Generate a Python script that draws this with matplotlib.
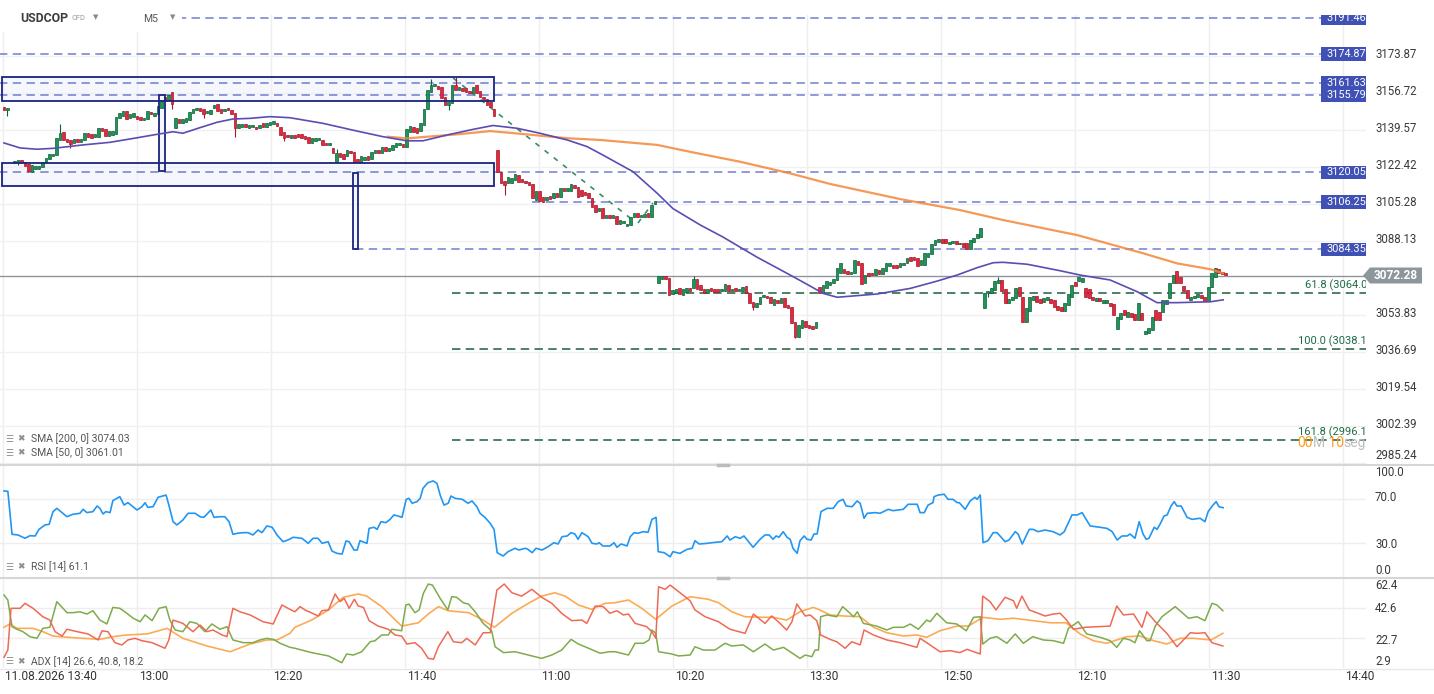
import numpy as np
import matplotlib
matplotlib.use("Agg")
import matplotlib.pyplot as plt
from matplotlib.patches import Rectangle, Polygon
from matplotlib.lines import Line2D
from matplotlib import transforms

plt.rcParams['font.family'] = ['Roboto', 'DejaVu Sans']

# ---- data (USDCOP CFD, M5) ----
# (open, close) per candle slot; slot 2 is empty
candles = [
    (3150.4, 3149.0), (3149.0, 3149.9), None, (3124.5, 3125.2), (3124.9, 3125.6),
    (3125.6, 3124.7), (3124.7, 3123.1), (3123.8, 3120.7), (3120.4, 3123.5), (3121.6, 3123.1),
    (3121.6, 3122.8), (3122.6, 3125.0), (3125.0, 3126.8), (3126.3, 3128.4), (3127.5, 3128.4),
    (3128.1, 3135.8), (3135.1, 3138.2), (3138.9, 3135.1), (3135.4, 3134.0), (3134.9, 3133.1),
    (3133.5, 3135.5), (3135.5, 3134.3), (3134.3, 3135.5), (3134.9, 3138.1), (3138.1, 3136.6),
    (3137.7, 3136.1), (3136.4, 3137.7), (3136.6, 3140.5), (3140.5, 3139.4), (3140.0, 3137.0),
    (3137.0, 3139.2), (3137.4, 3139.2), (3137.7, 3145.6), (3145.1, 3147.4), (3146.3, 3148.5),
    (3148.5, 3144.6), (3145.1, 3146.9), (3145.7, 3147.4), (3146.2, 3144.6), (3145.7, 3144.2),
    (3144.2, 3145.4), (3144.8, 3148.6), (3148.2, 3146.9), (3146.3, 3147.7), (3146.9, 3150.9),
    (3150.0, 3153.4), (3155.0, 3153.1), (3153.4, 3155.9), (3157.2, 3151.6), (3140.8, 3145.1),
    (3144.6, 3143.1), (3142.8, 3144.6), (3143.5, 3145.1), (3144.5, 3147.9), (3147.6, 3149.4),
    (3148.8, 3149.7), (3149.7, 3148.5), (3149.3, 3147.0), (3147.4, 3148.5), (3147.0, 3149.0),
    (3149.7, 3151.3), (3151.6, 3148.5), (3149.3, 3147.7), (3148.5, 3149.4), (3150.0, 3148.8),
    (3148.8, 3147.2), (3147.6, 3140.8), (3140.5, 3142.3), (3140.9, 3142.5), (3142.3, 3141.1),
    (3140.8, 3142.0), (3140.9, 3142.0), (3141.2, 3140.0), (3140.5, 3142.0), (3142.8, 3140.9),
    (3140.9, 3143.1), (3142.0, 3143.5), (3142.3, 3143.9), (3142.8, 3141.6), (3141.2, 3137.4),
    (3138.9, 3135.8), (3137.4, 3136.6), (3136.1, 3137.4), (3137.4, 3136.1), (3137.7, 3136.6),
    (3137.7, 3135.8), (3136.9, 3135.6), (3136.6, 3133.8), (3133.8, 3136.1), (3134.7, 3135.8),
    (3135.1, 3135.8), (3135.1, 3132.7), (3133.8, 3132.6), (3132.6, 3133.8), (3131.5, 3129.2),
    (3125.0, 3129.2), (3129.2, 3127.0), (3128.4, 3126.1), (3127.7, 3130.4), (3130.0, 3128.9),
    (3129.6, 3125.0), (3126.1, 3125.0), (3125.0, 3127.7), (3125.8, 3127.0), (3127.7, 3125.8),
    (3126.1, 3129.6), (3129.2, 3130.4), (3130.4, 3129.2), (3128.9, 3131.7), (3131.7, 3130.1),
    (3130.1, 3131.2), (3130.4, 3132.7), (3131.9, 3133.5), (3132.6, 3133.8), (3133.2, 3131.9),
    (3131.9, 3140.0), (3138.9, 3141.6), (3140.9, 3138.9), (3140.5, 3138.4), (3139.4, 3142.8),
    (3142.0, 3149.3), (3149.3, 3158.2), (3157.4, 3160.5), (3160.1, 3160.9), (3160.1, 3158.5),
    (3159.5, 3154.4), (3154.8, 3151.3), (3151.4, 3152.8), (3152.3, 3160.5), (3160.5, 3158.2),
    (3158.2, 3159.5), (3159.0, 3157.9), (3159.0, 3157.4), (3157.9, 3156.7), (3157.0, 3159.8),
    (3160.5, 3157.0), (3157.9, 3155.1), (3155.1, 3153.9), (3153.9, 3151.3), (3152.8, 3150.2),
    (3149.3, 3146.2), (3130.4, 3120.4), (3120.4, 3115.3), (3116.2, 3114.2), (3115.0, 3117.8),
    (3115.3, 3117.3), (3116.5, 3119.3), (3118.8, 3115.7), (3116.8, 3115.7), (3116.2, 3115.0),
    (3115.6, 3114.2), (3114.5, 3108.0), (3107.3, 3111.4), (3111.4, 3106.9), (3108.5, 3106.4),
    (3107.3, 3108.8), (3109.1, 3107.6), (3108.0, 3110.3), (3110.3, 3108.5), (3108.5, 3112.7),
    (3113.0, 3111.6), (3111.6, 3113.0), (3111.6, 3114.5), (3114.2, 3112.7), (3113.4, 3108.8),
    (3111.9, 3109.1), (3111.1, 3109.6), (3110.3, 3108.0), (3108.0, 3104.1), (3104.9, 3101.8),
    (3102.3, 3103.4), (3103.4, 3098.8), (3098.8, 3100.3), (3100.3, 3098.8), (3098.8, 3100.3),
    (3099.8, 3096.0), (3096.1, 3098.0), (3096.4, 3097.6), (3095.2, 3096.1), (3095.7, 3099.2),
    (3099.2, 3101.1), (3101.1, 3099.2), (3099.5, 3100.3), (3099.5, 3100.8), (3101.1, 3099.5),
    (3099.5, 3104.9), (3105.4, 3106.8), (3068.7, 3072.0), (3070.5, 3072.0), (3072.0, 3070.5),
    (3071.3, 3063.1), (3063.7, 3065.6), (3064.0, 3066.1), (3066.3, 3063.7), (3063.2, 3065.9),
    (3064.8, 3066.6), (3066.6, 3065.2), (3066.3, 3070.5), (3070.5, 3065.9), (3067.9, 3065.6),
    (3066.1, 3064.3), (3064.0, 3065.9), (3066.5, 3064.9), (3066.1, 3064.8), (3066.0, 3064.8),
    (3065.2, 3066.1), (3065.2, 3068.3), (3067.9, 3065.2), (3065.2, 3066.1), (3066.5, 3065.2),
    (3065.2, 3066.1), (3064.9, 3067.1), (3067.4, 3064.0), (3064.0, 3059.4), (3060.0, 3057.8),
    (3057.8, 3059.7), (3059.1, 3062.4), (3062.2, 3063.1), (3062.8, 3061.8), (3062.4, 3059.4),
    (3058.5, 3061.2), (3060.9, 3059.4), (3059.4, 3061.8), (3061.8, 3057.8), (3058.5, 3057.1),
    (3057.8, 3050.4), (3050.8, 3043.9), (3043.9, 3049.4), (3047.8, 3051.7), (3051.3, 3048.5),
    (3049.4, 3047.8), (3048.9, 3047.7), (3047.8, 3050.8), (3067.1, 3064.3), (3064.3, 3067.9),
    (3066.3, 3069.7), (3067.9, 3069.4), (3068.6, 3070.5), (3070.2, 3075.6), (3073.3, 3078.2),
    (3075.1, 3073.6), (3074.4, 3073.0), (3073.0, 3074.0), (3073.6, 3079.5), (3079.1, 3077.1),
    (3077.9, 3068.3), (3068.9, 3072.5), (3073.6, 3072.0), (3073.6, 3072.5), (3072.5, 3075.1),
    (3074.8, 3073.0), (3073.0, 3075.6), (3074.5, 3077.9), (3076.7, 3077.9), (3077.1, 3075.6),
    (3077.1, 3075.6), (3076.1, 3077.9), (3077.1, 3078.2), (3077.9, 3080.2), (3080.7, 3079.1),
    (3080.7, 3079.5), (3080.2, 3076.8), (3077.1, 3079.5), (3077.1, 3082.6), (3081.0, 3082.8),
    (3082.2, 3086.9), (3086.4, 3088.7), (3087.9, 3089.0), (3089.0, 3087.5), (3089.0, 3087.2),
    (3086.9, 3087.9), (3087.2, 3088.1), (3088.1, 3086.9), (3086.9, 3087.5), (3087.5, 3085.6),
    (3087.2, 3084.4), (3084.4, 3088.7), (3087.9, 3089.5), (3089.5, 3091.5), (3090.0, 3094.1),
    (3057.0, 3064.3), (3064.0, 3065.2), (3064.0, 3066.5), (3065.6, 3069.8), (3068.9, 3070.2),
    (3070.2, 3065.2), (3065.9, 3059.7), (3059.4, 3061.2), (3061.0, 3062.2), (3061.7, 3066.3),
    (3066.8, 3062.8), (3062.2, 3050.8), (3050.8, 3057.1), (3056.0, 3062.2), (3060.9, 3062.8),
    (3062.8, 3060.1), (3061.5, 3059.7), (3060.0, 3061.8), (3061.0, 3062.2), (3061.2, 3059.4),
    (3060.9, 3057.5), (3058.1, 3056.3), (3057.5, 3055.9), (3055.9, 3059.7), (3058.6, 3063.7),
    (3062.4, 3067.9), (3069.4, 3067.4), (3069.8, 3071.4), (3069.4, 3070.9), (3066.3, 3062.4),
    (3065.9, 3061.7), (3062.4, 3060.9), (3060.6, 3061.7), (3061.7, 3060.6), (3059.4, 3060.9),
    (3059.7, 3060.9), (3059.4, 3058.1), (3059.1, 3054.0), (3047.3, 3053.2), (3052.0, 3054.7),
    (3056.3, 3054.0), (3053.2, 3055.5), (3054.7, 3053.2), (3054.4, 3051.7), (3051.7, 3059.4),
    (3055.0, 3051.7), (3045.2, 3046.6), (3045.5, 3047.8), (3047.0, 3053.2), (3056.3, 3051.7),
    (3055.5, 3051.7), (3055.5, 3060.9), (3059.1, 3060.9), (3061.7, 3068.6), (3068.9, 3072.5),
    (3074.5, 3068.9), (3071.7, 3068.9), (3067.4, 3065.2), (3065.6, 3061.7), (3060.9, 3062.4),
    (3061.8, 3062.8), (3062.4, 3063.7), (3063.2, 3061.7), (3062.4, 3060.6), (3060.6, 3067.1),
    (3067.1, 3073.3), (3071.7, 3075.6), (3075.1, 3073.3), (3074.0, 3073.0), (3073.6, 3072.3),
]
# visible wicks: slot -> extreme price
wick_high = {16: 3142.3, 95: 3130.9, 122: 3163.2, 129: 3164.1, 197: 3072.0, 284: 3071.4}
wick_low = {1: 3146.2, 4: 3123.5, 7: 3120.1, 19: 3131.2, 48: 3149.4, 57: 3145.1,
            66: 3136.6, 80: 3134.7, 127: 3149.0, 143: 3109.6, 214: 3056.3, 226: 3043.3,
            281: 3062.2}

sma50_pts = [(0.0, 3133.7), (4.6, 3131.4), (9.4, 3130.8), (14.0, 3131.2), (22.6, 3132.8),
             (30.3, 3134.0), (38.0, 3136.1), (43.7, 3137.7), (48.3, 3138.9), (51.1, 3138.2),
             (56.0, 3140.8), (60.9, 3143.3), (65.4, 3144.8), (70.3, 3145.1), (76.0, 3145.9),
             (81.7, 3145.4), (91.1, 3142.8), (100.9, 3139.2), (108.3, 3136.6), (115.1, 3134.7),
             (119.7, 3134.7), (126.6, 3137.4), (134.0, 3140.0), (139.7, 3141.8), (146.6, 3140.5),
             (153.1, 3138.2), (160.9, 3135.1), (166.6, 3132.0), (171.1, 3128.1), (179.7, 3120.4),
             (186.6, 3110.4), (191.1, 3103.3), (198.9, 3095.7), (205.4, 3090.1), (215.1, 3080.8),
             (224.6, 3072.5), (230.3, 3067.4), (234.0, 3064.0), (238.0, 3062.2), (249.4, 3063.7),
             (258.9, 3066.3), (266.6, 3069.7), (272.3, 3072.5), (278.0, 3075.9), (282.6, 3078.2),
             (285.4, 3078.4), (292.3, 3077.5), (301.7, 3074.5), (307.4, 3072.5), (316.0, 3070.2),
             (323.7, 3064.8), (329.4, 3059.7), (335.1, 3059.7), (344.6, 3060.1), (348.3, 3061.0)]
sma200_pts = [(109.7, 3136.6), (115.1, 3135.8), (120.9, 3136.6), (129.4, 3137.7), (138.9, 3139.2),
              (144.6, 3138.4), (160.9, 3135.9), (170.3, 3135.1), (186.6, 3132.8), (196.0, 3129.6),
              (210.3, 3125.0), (224.6, 3119.6), (236.0, 3114.7), (256.0, 3107.7), (273.1, 3102.6),
              (285.4, 3098.0), (306.6, 3091.0), (325.4, 3082.6), (335.1, 3077.9), (344.6, 3075.2),
              (348.3, 3073.3)]

rsi_pts = [(0.0, 77.3), (1.1, 77.0), (2.3, 37.9), (4.0, 37.3), (6.0, 34.3), (7.4, 36.6), (8.9, 36.4),
           (10.0, 42.4), (11.7, 46.4), (12.9, 47.0), (14.0, 58.5), (15.1, 61.5), (16.6, 57.6),
           (18.0, 53.9), (19.7, 56.1), (21.7, 57.0), (22.6, 60.6), (23.7, 57.6), (25.4, 58.5),
           (26.6, 63.6), (27.4, 61.5), (28.3, 56.4), (29.1, 58.5), (30.3, 57.6), (31.1, 68.5),
           (33.1, 72.1), (34.3, 64.5), (35.4, 66.7), (38.0, 60.0), (39.4, 63.0), (40.3, 66.6),
           (41.1, 62.4), (42.6, 63.0), (44.0, 71.5), (46.3, 73.6), (47.1, 64.5), (48.3, 49.4),
           (49.4, 46.4), (51.1, 50.9), (52.6, 57.0), (54.6, 57.0), (56.0, 53.9), (57.1, 53.3),
           (59.1, 60.0), (60.0, 53.3), (61.7, 53.9), (63.1, 53.9), (64.3, 49.4), (65.4, 37.9),
           (66.6, 38.8), (68.3, 39.4), (69.7, 39.4), (71.1, 37.3), (72.6, 41.8), (73.7, 39.4),
           (75.1, 45.5), (76.6, 44.3), (78.0, 37.3), (79.7, 31.2), (81.1, 32.7), (82.6, 35.2),
           (85.1, 34.3), (86.9, 29.7), (88.3, 34.3), (89.7, 34.3), (90.9, 29.7), (92.6, 31.2),
           (93.7, 22.7), (95.1, 20.6), (96.6, 20.0), (97.7, 31.8), (98.6, 31.2), (100.0, 23.6),
           (100.9, 23.6), (101.7, 32.1), (103.7, 29.7), (104.3, 43.3), (105.7, 44.3), (106.6, 42.4),
           (107.7, 49.4), (109.1, 48.5), (110.3, 51.5), (111.4, 55.5), (112.6, 54.5), (113.7, 53.3),
           (114.9, 69.7), (115.7, 70.6), (116.6, 66.1), (118.0, 67.6), (118.9, 70.6), (119.7, 79.7),
           (121.1, 84.8), (122.6, 86.4), (123.7, 84.2), (124.6, 73.6), (125.7, 64.5), (126.9, 66.1),
           (127.7, 72.7), (128.9, 70.6), (130.9, 69.7), (132.6, 66.1), (133.7, 68.2), (135.1, 63.0),
           (136.0, 57.0), (137.4, 53.3), (138.9, 47.9), (140.0, 42.4), (140.9, 21.2), (142.6, 18.2),
           (144.0, 22.1), (146.0, 25.2), (147.1, 23.6), (148.9, 25.2), (149.7, 24.2), (150.9, 21.2),
           (152.0, 25.2), (153.7, 23.6), (155.4, 26.6), (157.1, 30.3), (158.3, 29.1), (159.4, 35.7),
           (160.9, 36.4), (162.0, 39.4), (163.1, 38.2), (164.0, 33.4), (165.1, 39.4), (166.9, 35.7),
           (168.0, 29.7), (169.4, 29.1), (170.0, 30.3), (171.1, 27.3), (173.1, 27.3), (174.3, 30.3),
           (175.1, 26.1), (176.3, 29.1), (178.0, 27.3), (178.9, 35.7), (180.0, 39.4), (181.1, 38.8),
           (182.6, 40.3), (184.0, 39.7), (185.1, 51.5), (186.3, 53.3), (186.9, 22.1), (188.6, 21.2),
           (190.3, 17.5), (191.1, 22.1), (193.1, 20.6), (195.1, 24.2), (196.6, 25.2), (197.4, 32.1),
           (198.6, 29.1), (200.9, 29.7), (202.3, 30.3), (205.1, 31.2), (206.6, 36.4), (207.4, 32.7),
           (208.9, 35.7), (210.3, 34.3), (211.4, 36.4), (214.0, 26.1), (216.0, 33.4), (217.4, 37.3),
           (218.6, 37.3), (219.7, 33.4), (220.6, 36.4), (221.4, 35.2), (222.6, 40.3), (223.7, 35.2),
           (224.6, 33.4), (225.4, 25.2), (226.6, 20.6), (227.4, 32.1), (228.6, 36.4), (229.4, 33.4),
           (230.6, 32.7), (231.4, 38.2), (232.3, 38.2), (233.4, 58.5), (235.1, 61.5), (236.9, 61.5),
           (238.3, 67.6), (239.7, 69.7), (240.6, 63.6), (242.3, 63.0), (243.7, 68.2), (244.6, 66.1),
           (245.7, 52.5), (246.6, 57.0), (248.9, 57.6), (250.3, 57.0), (252.6, 60.6), (254.0, 59.4),
           (256.9, 60.6), (258.3, 65.2), (260.9, 65.2), (261.7, 57.6), (262.9, 57.6), (264.0, 64.5),
           (265.4, 66.7), (265.7, 72.1), (266.9, 73.6), (268.6, 74.3), (269.7, 69.7), (271.1, 69.7),
           (272.3, 66.7), (272.9, 66.7), (274.6, 60.6), (276.0, 68.2), (277.4, 71.5), (278.0, 69.7),
           (278.9, 73.6), (279.7, 30.3), (281.1, 32.1), (282.6, 39.4), (283.7, 39.4), (286.0, 31.2),
           (287.1, 32.7), (288.9, 40.3), (289.7, 38.2), (290.9, 29.1), (292.9, 42.4), (294.0, 42.4),
           (295.4, 40.3), (297.4, 41.8), (299.7, 40.3), (301.7, 37.3), (302.9, 40.3), (305.1, 55.5),
           (306.6, 55.5), (308.0, 57.6), (310.3, 45.5), (313.1, 44.3), (315.1, 43.3), (316.6, 40.3),
           (318.0, 32.7), (319.4, 36.4), (320.9, 36.4), (321.7, 38.2), (323.1, 34.3), (324.3, 49.4),
           (325.4, 38.2), (326.3, 33.4), (327.1, 34.3), (328.6, 44.3), (329.4, 42.4), (330.3, 47.3),
           (331.4, 54.5), (332.3, 55.5), (333.4, 63.6), (334.3, 67.6), (335.1, 63.6), (336.3, 63.6),
           (338.0, 53.3), (339.4, 51.5), (341.7, 52.5), (343.1, 49.4), (344.0, 58.5), (345.4, 64.5),
           (346.3, 67.6), (347.1, 63.0), (348.3, 62.1)]

# ADX [14]: +DI (green), -DI (red), ADX (orange)
pdi_pts = [(0.0, 51.2), (1.1, 47.9), (2.3, 30.2), (3.7, 28.5), (5.4, 26.9), (7.4, 23.6), (9.4, 22.5),
           (11.1, 29.1), (13.1, 29.8), (15.1, 46.8), (18.0, 39.5), (19.7, 39.5), (21.7, 40.1),
           (23.7, 38.6), (25.4, 40.8), (27.4, 34.6), (29.4, 32.0), (31.1, 43.0), (33.1, 42.4),
           (35.1, 39.1), (36.9, 35.8), (38.9, 33.5), (40.3, 38.0), (42.3, 34.2), (44.3, 42.4),
           (46.3, 43.5), (47.4, 34.6), (48.9, 28.0), (51.1, 26.9), (53.1, 33.5), (55.1, 32.4),
           (57.4, 26.9), (59.4, 32.0), (61.7, 28.5), (63.7, 30.2), (65.4, 21.4), (68.3, 19.6),
           (71.1, 19.6), (73.1, 21.4), (75.1, 22.5), (76.9, 21.8), (78.9, 19.2), (81.7, 16.5),
           (83.1, 15.9), (87.9, 13.0), (92.7, 10.8), (96.5, 6.3), (97.9, 12.1), (99.8, 11.4),
           (102.2, 13.6), (104.6, 20.2), (106.0, 20.9), (107.9, 24.7), (109.8, 24.7), (110.8, 28.5),
           (113.6, 27.5), (114.8, 44.6), (115.7, 45.2), (117.4, 39.5), (118.6, 41.3), (119.8, 52.3),
           (121.2, 58.5), (122.4, 57.8), (124.6, 49.0), (126.8, 41.3), (127.9, 50.1), (129.3, 49.7),
           (131.2, 46.1), (132.7, 45.2), (134.6, 40.1), (136.9, 32.4), (139.3, 27.5), (140.3, 16.9),
           (142.7, 13.0), (146.0, 13.6), (148.9, 11.9), (153.6, 9.2), (156.5, 11.4), (159.3, 14.7),
           (162.0, 21.8), (164.1, 18.7), (167.0, 15.9), (170.3, 12.6), (173.1, 13.6), (174.6, 13.6),
           (178.4, 11.4), (180.3, 19.2), (182.7, 19.2), (184.3, 21.4), (185.1, 28.0), (186.2, 25.8),
           (187.0, 13.6), (190.8, 12.1), (192.7, 10.8), (196.0, 11.4), (197.4, 16.9), (199.8, 14.7),
           (203.1, 14.7), (206.0, 19.2), (207.9, 17.4), (211.2, 18.1), (214.1, 13.6), (217.4, 18.7),
           (219.8, 14.7), (222.7, 16.5), (227.4, 9.2), (228.9, 11.4), (230.8, 10.3), (231.7, 14.7),
           (232.7, 14.7), (233.3, 36.8), (235.1, 38.0), (237.9, 36.8), (239.6, 43.5), (241.7, 39.1),
           (242.7, 36.8), (243.8, 40.1), (245.5, 32.4), (249.3, 30.6), (252.2, 28.0), (254.1, 29.8),
           (257.0, 29.8), (258.9, 32.0), (261.2, 28.5), (263.6, 34.6), (264.6, 33.5), (266.5, 39.1),
           (269.3, 32.8), (272.2, 32.0), (274.9, 27.5), (277.0, 36.4), (278.9, 36.8), (279.6, 18.7),
           (281.7, 22.5), (283.6, 23.6), (286.5, 19.2), (288.9, 25.4), (291.2, 19.2), (293.9, 23.6),
           (296.9, 21.4), (299.8, 20.9), (302.7, 19.2), (304.1, 29.1), (306.9, 33.5), (309.3, 25.4),
           (313.1, 23.2), (316.0, 20.9), (317.9, 16.5), (319.8, 22.5), (321.7, 21.4), (323.1, 19.6),
           (324.4, 27.5), (326.5, 20.9), (327.4, 20.9), (328.9, 30.6), (330.8, 36.8), (334.6, 43.5),
           (338.4, 35.8), (340.8, 36.8), (343.1, 34.2), (345.1, 45.7), (346.5, 44.6), (348.2, 40.8)]
mdi_pts = [(0.0, 9.9), (1.1, 14.7), (2.0, 42.4), (4.6, 42.4), (6.0, 45.7), (8.3, 42.4), (11.1, 36.8),
           (13.1, 34.6), (14.6, 26.9), (16.6, 24.0), (18.0, 28.5), (20.9, 26.9), (24.0, 25.4),
           (26.9, 21.4), (28.0, 27.5), (29.7, 26.9), (31.7, 19.6), (33.7, 18.1), (35.4, 21.4),
           (37.4, 22.5), (39.4, 20.9), (42.3, 19.6), (46.0, 15.9), (47.1, 21.4), (48.3, 34.6),
           (51.1, 32.4), (54.0, 26.9), (56.0, 31.3), (58.0, 26.9), (59.7, 28.0), (62.3, 24.7),
           (63.7, 23.6), (65.4, 42.4), (67.4, 40.1), (70.3, 38.0), (74.0, 33.5), (76.9, 32.0),
           (79.4, 44.6), (81.7, 41.7), (83.1, 40.1), (84.6, 43.5), (86.0, 41.3), (89.8, 37.3),
           (90.8, 40.8), (92.7, 41.3), (94.6, 51.9), (96.0, 46.8), (97.2, 49.0), (98.6, 42.4),
           (100.1, 48.4), (101.2, 43.9), (102.7, 43.0), (104.3, 34.2), (106.9, 30.6), (109.8, 28.5),
           (111.7, 24.7), (113.6, 24.0), (115.1, 18.7), (117.4, 19.6), (119.3, 15.9), (121.2, 9.2),
           (122.7, 8.6), (124.1, 16.9), (126.8, 26.9), (128.4, 20.2), (130.8, 19.6), (132.2, 22.5),
           (134.6, 18.1), (136.9, 26.2), (138.9, 26.2), (140.8, 54.5), (142.9, 58.5), (145.1, 52.7),
           (147.9, 50.5), (150.8, 55.0), (153.6, 49.7), (156.5, 45.7), (159.3, 39.1), (162.2, 34.2),
           (165.1, 34.6), (166.5, 32.4), (168.9, 43.9), (171.2, 43.5), (173.1, 39.1), (175.1, 40.8),
           (176.9, 38.0), (178.4, 38.6), (180.3, 32.4), (183.6, 30.2), (185.1, 26.9), (186.2, 22.5),
           (187.0, 56.7), (188.9, 55.0), (190.3, 57.8), (193.6, 51.9), (196.0, 47.4), (197.4, 41.3),
           (200.3, 36.8), (204.1, 33.5), (207.4, 28.5), (211.7, 25.8), (214.1, 38.6), (217.4, 32.4),
           (219.3, 37.3), (221.2, 33.5), (223.6, 28.0), (225.1, 33.5), (226.5, 45.2), (228.9, 37.3),
           (230.3, 38.0), (232.2, 34.2), (233.3, 24.7), (236.0, 21.8), (237.9, 20.2), (240.3, 15.9),
           (242.2, 20.2), (244.6, 18.1), (245.7, 28.0), (248.4, 24.7), (252.2, 21.4), (256.0, 19.6),
           (260.8, 16.5), (261.7, 22.5), (263.6, 19.6), (267.4, 13.6), (270.3, 14.3), (273.1, 13.0),
           (275.1, 15.2), (278.9, 12.1), (279.6, 50.5), (281.7, 46.8), (283.4, 41.3), (286.0, 49.7),
           (288.4, 47.4), (289.3, 42.4), (290.8, 50.5), (292.9, 41.3), (296.0, 38.6), (297.4, 37.3),
           (299.8, 38.6), (301.7, 39.1), (303.4, 35.1), (305.5, 28.5), (308.9, 29.8), (312.2, 30.2),
           (316.0, 30.6), (317.9, 43.9), (319.8, 38.0), (322.7, 38.6), (325.1, 29.8), (326.5, 40.1),
           (328.9, 33.5), (332.2, 25.8), (335.1, 16.9), (338.9, 26.2), (340.8, 25.8), (343.1, 26.2),
           (345.1, 19.6), (348.2, 17.4)]
adx_pts = [(0.0, 29.8), (1.7, 32.0), (3.7, 29.1), (8.3, 29.1), (11.1, 26.9), (14.0, 24.0), (18.0, 23.2),
           (22.6, 22.5), (27.4, 21.8), (31.1, 23.6), (35.1, 24.7), (40.9, 25.4), (46.6, 29.1),
           (51.1, 22.5), (58.0, 17.4), (64.6, 13.6), (70.3, 18.7), (75.1, 21.4), (78.0, 21.4),
           (81.7, 25.8), (83.1, 29.8), (87.9, 34.6), (92.7, 41.3), (96.9, 49.7), (101.2, 51.9),
           (103.6, 50.5), (107.9, 43.5), (113.6, 30.6), (118.4, 32.8), (121.2, 38.6), (124.1, 43.5),
           (126.9, 40.8), (132.7, 39.5), (136.5, 35.1), (140.1, 29.8), (145.1, 39.1), (149.8, 45.7),
           (153.6, 50.5), (157.4, 52.7), (160.3, 50.5), (164.1, 44.6), (167.9, 41.7), (171.7, 45.7),
           (174.6, 46.1), (178.4, 47.9), (182.2, 42.4), (186.2, 35.1), (190.8, 43.9), (196.0, 50.1),
           (201.2, 48.4), (204.1, 46.1), (207.9, 40.1), (211.7, 36.8), (217.4, 36.4), (219.8, 36.4),
           (223.6, 34.6), (227.4, 40.1), (231.2, 43.0), (232.7, 41.7), (236.0, 38.0), (239.8, 37.3),
           (244.6, 36.8), (248.4, 29.8), (252.2, 26.2), (257.0, 24.0), (260.8, 24.7), (263.6, 23.2),
           (267.4, 27.5), (272.2, 30.6), (275.5, 30.6), (279.6, 36.4), (284.6, 35.1), (288.4, 35.8),
           (294.1, 34.2), (298.9, 32.8), (303.4, 32.8), (307.4, 25.4), (311.2, 20.9), (315.0, 19.2),
           (317.9, 21.4), (320.8, 23.6), (324.6, 24.0), (328.4, 20.9), (332.2, 18.7), (336.0, 22.5),
           (339.8, 22.5), (344.8, 21.4), (348.2, 25.8)]

last_price = 3072.28
sma200_last, sma50_last = 3074.03, 3061.01
rsi_last = 61.1
adx_last = (26.6, 40.8, 18.2)

price_ticks = [3173.87, 3156.72, 3139.57, 3122.42, 3105.28, 3088.13,
               3053.83, 3036.69, 3019.54, 3002.39, 2985.24]
rsi_ticks = [100.0, 70.0, 30.0, 0.0]
adx_ticks = [62.4, 42.6, 22.7, 2.9]
time_labels = ['11.08.2026 13:40', '13:00', '12:20', '11:40', '11:00', '10:20',
               '13:30', '12:50', '12:10', '11:30', '14:40']

# drawn objects
level_prices = [3191.46, 3174.87, 3161.63, 3155.79, 3120.05, 3106.25, 3084.35]
level_starts = [-2, -2, -2, -2, -2, 150.8, 100.3]
fib_levels = [('61.8', 3064.0), ('100.0', 3038.1), ('161.8', 2996.1)]
fib_start = 128.0
fib_legs = [([128.3, 178.9], [3163.8, 3098.9]), ([181.1, 185.4], [3096.6, 3105.9])]
zones = [(-0.6, 140.0, 3153.1, 3164.3), (-0.6, 140.0, 3113.7, 3124.4),
         (44.4, 45.9, 3120.7, 3155.9), (99.7, 101.1, 3084.5, 3119.8)]

# ---- layout ----
W, H = 1434, 694
PR = 1366                     # right edge of plotting area (px)
XL = (-1.14, 389.1)
tick_slots = -0.3 + 38.29 * np.arange(len(time_labels))

fig = plt.figure(figsize=(W / 100, H / 100), dpi=100)
fig.patch.set_facecolor('white')


def panel(top, bottom, ylim):
    a = fig.add_axes([0, (H - bottom) / H, PR / W, (bottom - top) / H])
    a.set_xlim(*XL)
    a.set_ylim(*ylim)
    for s in a.spines.values():
        s.set_visible(False)
    a.set_xticks([])
    a.set_yticks([])
    for t in tick_slots:
        a.axvline(t, color='#eeeeee', lw=1, zorder=0)
    return a


ax = panel(15, 464, (2984.93, 3193.0))
ax_rsi = panel(465, 577, (-0.9, 100.9))
ax_adx = panel(578, 668, (2.8, 62.5))

for p in price_ticks:
    ax.axhline(p, color='#f0f0f0', lw=1, zorder=0)
for v in (70, 30):
    ax_rsi.axhline(v, color='#eeeeee', lw=1, zorder=0)
for v in (42.6, 22.7):
    ax_adx.axhline(v, color='#eeeeee', lw=1, zorder=0)

# zones
for x0, x1, y0, y1 in zones:
    ax.add_patch(Rectangle((x0, y0), x1 - x0, y1 - y0, facecolor='#eef1fb', alpha=0.55,
                           edgecolor='none', zorder=1))
    ax.add_patch(Rectangle((x0, y0), x1 - x0, y1 - y0, facecolor='none',
                           edgecolor='#1a237e', lw=1.3, zorder=3.5))

# horizontal levels
for p, x0 in zip(level_prices, level_starts):
    ax.hlines(p, x0, XL[1], color='#4e5fc4', lw=1.1, alpha=0.8,
              linestyles=[(0, (5.5, 3.5))], zorder=2)
for name, p in fib_levels:
    ax.hlines(p, fib_start, XL[1], color='#1d5e3c', lw=1.1,
              linestyles=[(0, (5.5, 3.5))], zorder=2)
for xs, ys in fib_legs:
    ax.plot(xs, ys, color='#3b8c68', lw=1.2, ls=(0, (3, 4)), zorder=2)

ax.axhline(last_price, color='#8f969b', lw=1, zorder=2.2)

# candles
idx = np.array([i for i, cd in enumerate(candles) if cd is not None])
o = np.array([candles[i][0] for i in idx])
c = np.array([candles[i][1] for i in idx])
hi = np.maximum(o, c)
lo = np.minimum(o, c)
for k, v in wick_high.items():
    hi[idx == k] = v
for k, v in wick_low.items():
    lo[idx == k] = v
up = c >= o
for m, face, edge in ((up, '#1f9458', '#0e6336'), (~up, '#e2283c', '#a8172a')):
    ax.vlines(idx[m], lo[m], hi[m], color=edge, lw=0.8, zorder=3)
    ax.bar(idx[m], np.abs(c - o)[m], bottom=lo[m] * 0 + np.minimum(o, c)[m], width=0.8,
           color=face, edgecolor=edge, lw=0.5, zorder=3)

# moving averages
ax.plot(*zip(*sma200_pts), color='#f3873a', lw=1.6, alpha=0.85, zorder=4)
ax.plot(*zip(*sma50_pts), color='#5a4db2', lw=1.2, zorder=4)

# indicators
ax_rsi.plot(*zip(*rsi_pts), color='#2196f3', lw=1.2)
ax_adx.plot(*zip(*adx_pts), color='#fdaa55', lw=1.2)
ax_adx.plot(*zip(*pdi_pts), color='#7fab4b', lw=1.1)
ax_adx.plot(*zip(*mdi_pts), color='#ee6a55', lw=1.1)

# right-edge price tags
tag_tr = transforms.blended_transform_factory(ax.transAxes, ax.transData)
for p in level_prices:
    ax.add_patch(Rectangle((1321 / PR, p - 3.2), 0.05, 6.4, transform=tag_tr,
                           facecolor='#3f51b5', edgecolor='none', zorder=6, clip_on=True))
    ax.text(1326 / PR, p, f'{p:.2f}', transform=tag_tr, color='white', fontsize=7.8,
            va='center', ha='left', zorder=7, clip_on=True)
fib_tr = transforms.offset_copy(tag_tr, fig=fig, x=0, y=2, units='dots')
for name, p in fib_levels:
    ax.text(1371 / PR, p, f'{name} ({p:.1f})', transform=fib_tr, color='#1e6b46',
            fontsize=8, va='bottom', ha='right', zorder=7, clip_on=True)

# countdown
t0 = fig.text(1297 / W, 1 - 450 / H, '00', color='#ff9d1c', fontsize=10, va='bottom')
t1 = ax.annotate('M', xy=(1, 0), xycoords=t0, va='bottom', color='#bdbdbd', fontsize=10,
                 annotation_clip=False)
t2 = ax.annotate(' 10', xy=(1, 0), xycoords=t1, va='bottom', color='#ff9d1c', fontsize=10,
                 annotation_clip=False)
ax.annotate('seg', xy=(1, 0), xycoords=t2, va='bottom', color='#bdbdbd', fontsize=10,
            annotation_clip=False)

# right axis labels
def axis_labels(a, vals, fmt, edge):
    tr = transforms.blended_transform_factory(fig.transFigure, a.transData)
    for v in vals:
        va, dy = edge.get(v, ('center', 2))
        t = transforms.offset_copy(tr, fig=fig, x=0, y=dy, units='dots')
        a.text(1375 / W, v, fmt.format(v), transform=t, va=va, ha='left',
               fontsize=8.3, color='#3a3a3a', clip_on=False)


axis_labels(ax, price_ticks, '{:.2f}', {2985.24: ('bottom', 1)})
axis_labels(ax_rsi, rsi_ticks, '{:.1f}', {100.0: ('top', 0), 0.0: ('bottom', -1),
                                           70.0: ('center', 1), 30.0: ('center', -1)})
axis_labels(ax_adx, adx_ticks, '{:.1f}', {62.4: ('top', -1), 2.9: ('bottom', 0),
                                           42.6: ('center', 0), 22.7: ('center', -2)})

# current price tag
fig.canvas.draw()
yd = ax.transData.transform((0, last_price))[1]
ident = transforms.IdentityTransform()
fig.add_artist(Polygon([(1363, yd), (1370, yd + 8), (1422, yd + 8), (1422, yd - 8), (1370, yd - 8)],
                       closed=True, facecolor='#8c969b', edgecolor='none', transform=ident))
fig.text(1374, yd, f'{last_price:.2f}', transform=ident, color='white', fontsize=8.6,
         fontweight='bold', va='center', ha='left')

# time axis
for t, lab in zip(tick_slots, time_labels):
    tr = transforms.blended_transform_factory(ax_adx.transData, fig.transFigure)
    ax_adx.text(t + 0.5, 1 - 677 / H, lab, transform=tr, fontsize=8.6, color='#333333',
                va='center', ha='left', clip_on=False)

# panel separators
for ypx, col, lw in ((464.5, '#d6d6d6', 1.5), (577.5, '#d6d6d6', 1.5), (668.5, '#e8e8e8', 1)):
    fig.add_artist(Line2D([0, 1], [1 - ypx / H] * 2, transform=fig.transFigure, color=col, lw=lw))
    if ypx < 600:
        fig.add_artist(Line2D([718 / W, 728 / W], [1 - ypx / H] * 2, transform=fig.transFigure,
                              color='#bcbcbc', lw=2.5))

# legends
def legend_row(ypx, text):
    yf = 1 - ypx / H
    fig.text(5 / W, yf, '☰', fontsize=6.5, color='#8c8c8c', va='center', family=['DejaVu Sans'])
    fig.text(17 / W, yf, '✖', fontsize=6.5, color='#8c8c8c', va='center', family=['DejaVu Sans'])
    fig.text(31 / W, yf, text, fontsize=7.5, color='#555555', va='center')


legend_row(439, f'SMA [200, 0] {sma200_last:.2f}')
legend_row(453, f'SMA [50, 0] {sma50_last:.2f}')
legend_row(567, f'RSI [14] {rsi_last}')
legend_row(662, 'ADX [14] {}, {}, {}'.format(*adx_last))

# header
fig.add_artist(Rectangle((0, 1 - 32 / H), 182 / W, 32 / H, transform=fig.transFigure,
                         facecolor='white', edgecolor='none'))
fig.text(20 / W, 1 - 18 / H, 'USDCOP', fontsize=8.8, fontweight='bold', color='#3d3d3d', va='center')
fig.text(71 / W, 1 - 19 / H, 'CFD', fontsize=5.4, color='#9a9a9a', va='center')
fig.text(93 / W, 1 - 17 / H, '▼', fontsize=5, color='#888888', va='center', family=['DejaVu Sans'])
fig.text(143 / W, 1 - 19 / H, 'M5', fontsize=7.5, color='#555555', va='center')
fig.text(170 / W, 1 - 17 / H, '▼', fontsize=5, color='#888888', va='center', family=['DejaVu Sans'])

fig.savefig('out.png', dpi=100, facecolor='white')
